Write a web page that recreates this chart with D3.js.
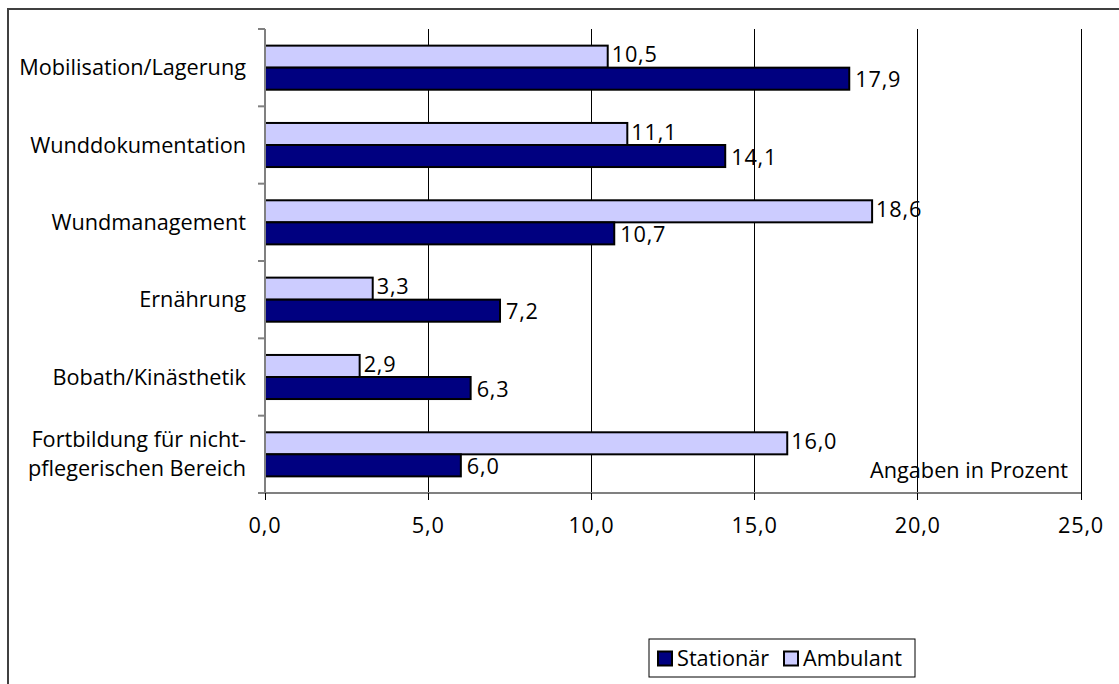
<!DOCTYPE html>
<html><head><meta charset="utf-8">
<script src="https://cdn.jsdelivr.net/npm/d3@7"></script>
<style>body{margin:0;background:#fff;} svg{display:block;font-family:"Open Sans",sans-serif;}</style>
</head><body><svg id="c" width="1119" height="684"></svg>
<script>
const categories = ["Mobilisation/Lagerung","Wunddokumentation","Wundmanagement","Ernährung","Bobath/Kinästhetik","Fortbildung für nicht-\npflegerischen Bereich"];
const ambulant = [10.5, 11.1, 18.6, 3.3, 2.9, 16.0];
const stationaer = [17.9, 14.1, 10.7, 7.2, 6.3, 6.0];
const xTicks = [0, 5, 10, 15, 20, 25];
const seriesNames = ["Stationär", "Ambulant"];
const colors = {"Stationär": "#000080", "Ambulant": "#CCCCFF"};

const svg = d3.select("#c");
const FS = 21.7;
const m = {left: 265, top: 29, right: 1081, bottom: 493};
const x = d3.scaleLinear().domain([0, 25]).range([m.left, m.right]);
const y = d3.scaleBand().domain(categories).range([m.top, m.bottom]).paddingInner(0.43).paddingOuter(0.215);
const fmt = v => d3.format(".1f")(v).replace(".", ",");

// outer frame
svg.append("path").attr("d", `M8,684 L8,9 L1119,9`).attr("fill","none").attr("stroke","#404040").attr("stroke-width",2);

// gridlines
svg.append("g").selectAll("line").data(xTicks.slice(1)).join("line")
  .attr("x1", d => x(d)).attr("x2", d => x(d)).attr("y1", m.top).attr("y2", m.bottom)
  .attr("stroke", "#000").attr("stroke-width", 1).attr("shape-rendering","crispEdges");

// bars
const rows = categories.map((c, i) => ({c, a: ambulant[i], s: stationaer[i]}));
const bh = y.bandwidth() / 2;
const g = svg.append("g");
g.selectAll("rect.amb").data(rows).join("rect").attr("class","amb")
  .attr("x", x(0)).attr("y", d => y(d.c)).attr("width", d => x(d.a) - x(0)).attr("height", bh)
  .attr("fill", colors["Ambulant"]).attr("stroke", "#000").attr("stroke-width", 2);
g.selectAll("rect.sta").data(rows).join("rect").attr("class","sta")
  .attr("x", x(0)).attr("y", d => y(d.c) + bh).attr("width", d => x(d.s) - x(0)).attr("height", bh)
  .attr("fill", colors["Stationär"]).attr("stroke", "#000").attr("stroke-width", 2);

// value labels
g.selectAll("text.la").data(rows).join("text").attr("class","la")
  .attr("x", d => x(d.a) + 4).attr("y", d => y(d.c) + bh/2 - 2).attr("dy","0.35em")
  .attr("font-size", FS).attr("letter-spacing", 0.8).attr("fill","#000").text(d => fmt(d.a));
g.selectAll("text.ls").data(rows).join("text").attr("class","ls")
  .attr("x", d => x(d.s) + 6).attr("y", d => y(d.c) + bh*1.5 + 1).attr("dy","0.35em")
  .attr("font-size", FS).attr("letter-spacing", 0.8).attr("fill","#000").text(d => fmt(d.s));

// y axis
const ya = svg.append("g").attr("transform", `translate(${m.left},0)`);
ya.append("line").attr("x1",0).attr("x2",0).attr("y1",m.top).attr("y2",m.bottom).attr("stroke","#808080").attr("stroke-width",2);
ya.selectAll("line.t").data(d3.range(categories.length+1).map(i => m.top + i*(m.bottom-m.top)/categories.length)).join("line").attr("class","t")
  .attr("x1",-7).attr("x2",0).attr("y1",d=>d).attr("y2",d=>d).attr("stroke","#808080").attr("stroke-width",2);
const cl = svg.append("g").selectAll("text").data(categories).join("text")
  .attr("x", 246).attr("text-anchor","end").attr("font-size",FS).attr("fill","#000");
cl.each(function(c){
  const lines = c.split("\n");
  const cy = y(c) + y.bandwidth()/2;
  const lh = 29;
  lines.forEach((l, i) => {
    d3.select(this).append("tspan").attr("x",246).attr("y", cy + (i - (lines.length-1)/2)*lh).attr("dy","0.35em").text(l);
  });
});

// x axis
const xa = svg.append("g").attr("transform", `translate(0,${m.bottom})`);
xa.append("line").attr("x1", m.left-7).attr("x2", m.right).attr("y1",0).attr("y2",0).attr("stroke","#808080").attr("stroke-width",2);
xa.selectAll("line.t").data(xTicks).join("line").attr("class","t")
  .attr("x1",d=>x(d)).attr("x2",d=>x(d)).attr("y1",0).attr("y2",7).attr("stroke","#000").attr("stroke-width",1).attr("shape-rendering","crispEdges");
xa.selectAll("text").data(xTicks).join("text")
  .attr("x",d=>x(d)).attr("y",32).attr("dy","0.35em").attr("text-anchor","middle").attr("font-size",FS).attr("letter-spacing",0.8).attr("fill","#000").text(fmt);

// annotation
svg.append("text").attr("x",1068).attr("y",470).attr("dy","0.35em").attr("text-anchor","end").attr("font-size",FS).attr("fill","#000").text("Angaben in Prozent");

// legend
const lg = svg.append("g").attr("transform","translate(649,639)");
lg.append("rect").attr("width",266).attr("height",38).attr("fill","#fff").attr("stroke","#000").attr("stroke-width",1);
const legItems = [{n:seriesNames[0], x:8}, {n:seriesNames[1], x:134}];
legItems.forEach(it => {
  lg.append("rect").attr("x",it.x+1).attr("y",12.5).attr("width",14).attr("height",14).attr("fill",colors[it.n]).attr("stroke","#000").attr("stroke-width",2);
  lg.append("text").attr("x",it.x+20).attr("y",19).attr("dy","0.35em").attr("font-size",FS).attr("fill","#000").text(it.n);
});
</script></body></html>
